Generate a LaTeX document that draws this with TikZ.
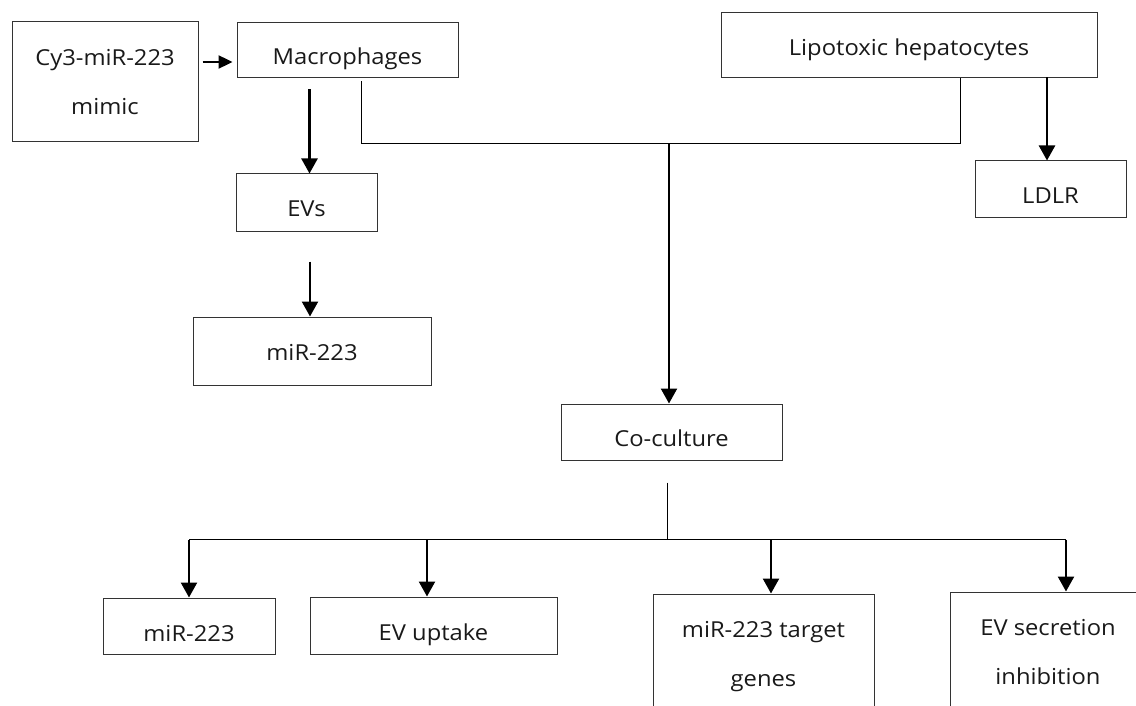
\documentclass[tikz,border=0pt]{standalone}
\usepackage{fontspec}
\setmainfont[FakeStretch=1.08]{Open Sans}
\usetikzlibrary{arrows.meta,calc}
\begin{document}
\begin{tikzpicture}[x=1pt,y=-1pt,
  box/.style={draw=black!80, line width=1pt, inner sep=0pt, align=center,
    font=\fontsize{22}{49}\selectfont, text=black!90},
  lift/.style={text height=#1, text depth=0pt},
  arr/.style={line width=2.4pt, -{Triangle[width=16pt,length=15pt]}},
  arrsmall/.style={line width=2.4pt, -{Triangle[width=13pt,length=14pt]}},
  thinline/.style={line width=1pt}]
\useasboundingbox (0,0) rectangle (1136,706);
\clip (0,0) rectangle (1136,706);
% boxes
\node[box, minimum width=186pt, minimum height=120pt] (cy3) at (105,82) {Cy3-miR-223\\mimic};
\node[box, lift=29pt, minimum width=221pt, minimum height=55pt] (mac) at (347.5,50.5) {Macrophages};
\node[box, lift=21pt, minimum width=376pt, minimum height=65pt] (lip) at (909,45.5) {Lipotoxic hepatocytes};
\node[box, lift=29pt, minimum width=141pt, minimum height=57pt] (evs) at (306.5,202.5) {EVs};
\node[box, lift=18pt, minimum width=238pt, minimum height=68pt] (mir1) at (312,351) {miR-223};
\node[box, lift=29pt, minimum width=151pt, minimum height=56pt] (ldlr) at (1050.5,189) {LDLR};
\node[box, lift=29pt, minimum width=221pt, minimum height=56pt] (cocult) at (671.5,432) {Co-culture};
\node[box, lift=30pt, minimum width=172pt, minimum height=56pt] (mir2) at (189,626) {miR-223};
\node[box, lift=30pt, minimum width=247pt, minimum height=57pt] (evup) at (433.5,625.5) {EV uptake};
\node[box, minimum width=221pt, minimum height=125pt] (target) at (763.5,656.5) {miR-223 target\\genes};
\node[box, minimum width=196pt, minimum height=120pt] (evsec) at (1048,652) {EV secretion\\inhibition};
% top connectors
\draw[arrsmall] ($(cy3.east)+(4,-20)$) -- ($(mac.west)+(-4,11.5)$);
\draw[arr] ($(evs.north)+(3,-84)$) -- ($(evs.north)+(3,0)$);
\draw[arr] ($(mir1.north)+(-2,-55)$) -- ($(mir1.north)+(-2,0)$);
\draw[thinline] ($(mac.south)+(13.5,3)$) -- ($(mac.south)+(13.5,65)$)
  -- ($(lip.south)+(51,65)$) -- ($(lip.south)+(51,0)$);
\coordinate (j1) at ($(cocult.north)+(-2.5,-259)$);
\draw[arr] (j1) -- ($(cocult.north)+(-2.5,0)$);
\draw[arr] ($(ldlr.north)+(-3.5,-83)$) -- ($(ldlr.north)+(-3.5,0)$);
% bottom connectors
\coordinate (split) at ($(cocult.south)+(-4.5,79)$);
\coordinate (e2) at ($(evup.north)+(-6.5,0)$);
\coordinate (e3) at ($(target.north)+(7.5,0)$);
\coordinate (e4) at ($(evsec.north)+(18,0)$);
\draw[thinline] ($(cocult.south)+(-4.5,22)$) -- (split);
\draw[thinline] (split -| mir2.north) -- (split -| e4);
\draw[arr] (split -| mir2.north) -- (mir2.north);
\draw[arr] (split -| e2) -- (e2);
\draw[arr] (split -| e3) -- (e3);
\draw[arr] (split -| e4) -- (e4);
\end{tikzpicture}
\end{document}
